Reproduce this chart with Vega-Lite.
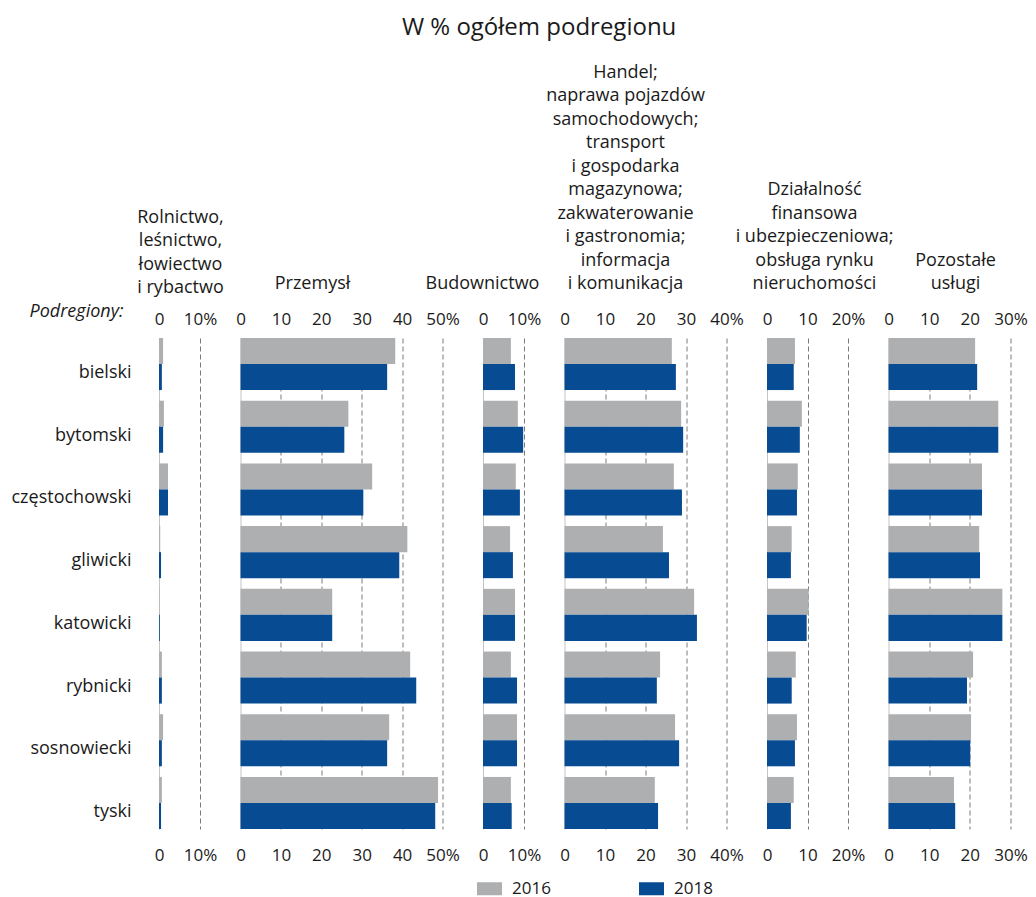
{
  "$schema": "https://vega.github.io/schema/vega-lite/v6.json",
  "padding": {"left": 10, "right": 3, "top": 15, "bottom": 12},
  "title": {"text": "W % ogółem podregionu", "fontSize": 24, "fontWeight": "normal", "anchor": "middle", "baseline": "top", "offset": 24, "dx": 20, "color": "#1a1a1a"},
  "data": {"values": [
    {"region": "bielski", "sector": "R", "year": "2016", "value": 1.0},
    {"region": "bytomski", "sector": "R", "year": "2016", "value": 1.2},
    {"region": "częstochowski", "sector": "R", "year": "2016", "value": 2.2},
    {"region": "gliwicki", "sector": "R", "year": "2016", "value": 0.3},
    {"region": "katowicki", "sector": "R", "year": "2016", "value": 0.1},
    {"region": "rybnicki", "sector": "R", "year": "2016", "value": 0.7},
    {"region": "sosnowiecki", "sector": "R", "year": "2016", "value": 1.0},
    {"region": "tyski", "sector": "R", "year": "2016", "value": 0.7},
    {"region": "bielski", "sector": "R", "year": "2018", "value": 0.7},
    {"region": "bytomski", "sector": "R", "year": "2018", "value": 1.0},
    {"region": "częstochowski", "sector": "R", "year": "2018", "value": 2.2},
    {"region": "gliwicki", "sector": "R", "year": "2018", "value": 0.5},
    {"region": "katowicki", "sector": "R", "year": "2018", "value": 0.2},
    {"region": "rybnicki", "sector": "R", "year": "2018", "value": 0.7},
    {"region": "sosnowiecki", "sector": "R", "year": "2018", "value": 0.7},
    {"region": "tyski", "sector": "R", "year": "2018", "value": 0.5},
    {"region": "bielski", "sector": "P", "year": "2016", "value": 38.3},
    {"region": "bytomski", "sector": "P", "year": "2016", "value": 26.7},
    {"region": "częstochowski", "sector": "P", "year": "2016", "value": 32.6},
    {"region": "gliwicki", "sector": "P", "year": "2016", "value": 41.3},
    {"region": "katowicki", "sector": "P", "year": "2016", "value": 22.7},
    {"region": "rybnicki", "sector": "P", "year": "2016", "value": 42.0},
    {"region": "sosnowiecki", "sector": "P", "year": "2016", "value": 36.8},
    {"region": "tyski", "sector": "P", "year": "2016", "value": 48.9},
    {"region": "bielski", "sector": "P", "year": "2018", "value": 36.3},
    {"region": "bytomski", "sector": "P", "year": "2018", "value": 25.7},
    {"region": "częstochowski", "sector": "P", "year": "2018", "value": 30.4},
    {"region": "gliwicki", "sector": "P", "year": "2018", "value": 39.3},
    {"region": "katowicki", "sector": "P", "year": "2018", "value": 22.7},
    {"region": "rybnicki", "sector": "P", "year": "2018", "value": 43.5},
    {"region": "sosnowiecki", "sector": "P", "year": "2018", "value": 36.3},
    {"region": "tyski", "sector": "P", "year": "2018", "value": 48.2},
    {"region": "bielski", "sector": "B", "year": "2016", "value": 6.8},
    {"region": "bytomski", "sector": "B", "year": "2016", "value": 8.5},
    {"region": "częstochowski", "sector": "B", "year": "2016", "value": 8.0},
    {"region": "gliwicki", "sector": "B", "year": "2016", "value": 6.6},
    {"region": "katowicki", "sector": "B", "year": "2016", "value": 7.8},
    {"region": "rybnicki", "sector": "B", "year": "2016", "value": 6.8},
    {"region": "sosnowiecki", "sector": "B", "year": "2016", "value": 8.3},
    {"region": "tyski", "sector": "B", "year": "2016", "value": 6.8},
    {"region": "bielski", "sector": "B", "year": "2018", "value": 7.8},
    {"region": "bytomski", "sector": "B", "year": "2018", "value": 9.8},
    {"region": "częstochowski", "sector": "B", "year": "2018", "value": 9.0},
    {"region": "gliwicki", "sector": "B", "year": "2018", "value": 7.3},
    {"region": "katowicki", "sector": "B", "year": "2018", "value": 7.8},
    {"region": "rybnicki", "sector": "B", "year": "2018", "value": 8.3},
    {"region": "sosnowiecki", "sector": "B", "year": "2018", "value": 8.3},
    {"region": "tyski", "sector": "B", "year": "2018", "value": 7.0},
    {"region": "bielski", "sector": "H", "year": "2016", "value": 26.5},
    {"region": "bytomski", "sector": "H", "year": "2016", "value": 28.8},
    {"region": "częstochowski", "sector": "H", "year": "2016", "value": 27.0},
    {"region": "gliwicki", "sector": "H", "year": "2016", "value": 24.3},
    {"region": "katowicki", "sector": "H", "year": "2016", "value": 32.0},
    {"region": "rybnicki", "sector": "H", "year": "2016", "value": 23.6},
    {"region": "sosnowiecki", "sector": "H", "year": "2016", "value": 27.3},
    {"region": "tyski", "sector": "H", "year": "2016", "value": 22.3},
    {"region": "bielski", "sector": "H", "year": "2018", "value": 27.5},
    {"region": "bytomski", "sector": "H", "year": "2018", "value": 29.3},
    {"region": "częstochowski", "sector": "H", "year": "2018", "value": 29.0},
    {"region": "gliwicki", "sector": "H", "year": "2018", "value": 25.8},
    {"region": "katowicki", "sector": "H", "year": "2018", "value": 32.7},
    {"region": "rybnicki", "sector": "H", "year": "2018", "value": 22.8},
    {"region": "sosnowiecki", "sector": "H", "year": "2018", "value": 28.3},
    {"region": "tyski", "sector": "H", "year": "2018", "value": 23.1},
    {"region": "bielski", "sector": "F", "year": "2016", "value": 6.9},
    {"region": "bytomski", "sector": "F", "year": "2016", "value": 8.6},
    {"region": "częstochowski", "sector": "F", "year": "2016", "value": 7.6},
    {"region": "gliwicki", "sector": "F", "year": "2016", "value": 6.1},
    {"region": "katowicki", "sector": "F", "year": "2016", "value": 10.3},
    {"region": "rybnicki", "sector": "F", "year": "2016", "value": 7.1},
    {"region": "sosnowiecki", "sector": "F", "year": "2016", "value": 7.4},
    {"region": "tyski", "sector": "F", "year": "2016", "value": 6.6},
    {"region": "bielski", "sector": "F", "year": "2018", "value": 6.6},
    {"region": "bytomski", "sector": "F", "year": "2018", "value": 8.1},
    {"region": "częstochowski", "sector": "F", "year": "2018", "value": 7.4},
    {"region": "gliwicki", "sector": "F", "year": "2018", "value": 5.9},
    {"region": "katowicki", "sector": "F", "year": "2018", "value": 9.8},
    {"region": "rybnicki", "sector": "F", "year": "2018", "value": 6.1},
    {"region": "sosnowiecki", "sector": "F", "year": "2018", "value": 6.9},
    {"region": "tyski", "sector": "F", "year": "2018", "value": 5.9},
    {"region": "bielski", "sector": "U", "year": "2016", "value": 21.3},
    {"region": "bytomski", "sector": "U", "year": "2016", "value": 27.0},
    {"region": "częstochowski", "sector": "U", "year": "2016", "value": 23.0},
    {"region": "gliwicki", "sector": "U", "year": "2016", "value": 22.3},
    {"region": "katowicki", "sector": "U", "year": "2016", "value": 28.0},
    {"region": "rybnicki", "sector": "U", "year": "2016", "value": 20.8},
    {"region": "sosnowiecki", "sector": "U", "year": "2016", "value": 20.3},
    {"region": "tyski", "sector": "U", "year": "2016", "value": 16.1},
    {"region": "bielski", "sector": "U", "year": "2018", "value": 21.8},
    {"region": "bytomski", "sector": "U", "year": "2018", "value": 27.0},
    {"region": "częstochowski", "sector": "U", "year": "2018", "value": 23.0},
    {"region": "gliwicki", "sector": "U", "year": "2018", "value": 22.5},
    {"region": "katowicki", "sector": "U", "year": "2018", "value": 28.0},
    {"region": "rybnicki", "sector": "U", "year": "2018", "value": 19.3},
    {"region": "sosnowiecki", "sector": "U", "year": "2018", "value": 20.1},
    {"region": "tyski", "sector": "U", "year": "2018", "value": 16.4}
  ]},
  "spacing": 40.5,
  "bounds": "flush",
  "hconcat": [
    {
      "width": 41, "height": 491,
      "transform": [{"filter": "datum.sector === 'R'"}],
      "title": {"text": ["Rolnictwo,", "leśnictwo,", "łowiectwo", "i rybactwo"], "dx": 1, "dy": 12},
      "layer": [
        {"mark": {"type": "bar"}, "encoding": {
          "y": {"field": "region", "type": "nominal", "sort": ["bielski","bytomski","częstochowski","gliwicki","katowicki","rybnicki","sosnowiecki","tyski"], "scale": {"paddingInner": 0.17, "paddingOuter": 0},
            "axis": {"title": "Podregiony:", "titleAngle": 0, "titleAlign": "right", "titleBaseline": "alphabetic", "titleX": -36, "titleY": -22, "titleFontStyle": "italic", "titleFontWeight": "normal", "titleFontSize": 18, "titleColor": "#1a1a1a", "labelFontSize": 18, "labelPadding": 28, "labelOffset": 9, "ticks": false, "domain": false, "grid": false, "labelColor": "#1a1a1a"}},
          "yOffset": {"field": "year", "type": "nominal", "scale": {"paddingInner": 0, "paddingOuter": 0}},
          "x": {"field": "value", "type": "quantitative", "scale": {"domain": [0, 10], "nice": false, "zero": true},
            "axis": {"orient": "top", "values": [0, 10], "labelExpr": "datum.value === 10 ? datum.label + '%' : datum.label", "grid": true}},
          "color": {"field": "year", "type": "nominal", "scale": {"domain": ["2016", "2018"], "range": ["#aeafb1", "#074b92"]},
            "legend": {"title": null, "orient": "none", "direction": "horizontal", "legendX": 318, "legendY": 538, "symbolType": "M-1,-0.52H1V0.52H-1Z", "symbolSize": 625, "symbolStrokeWidth": 0, "labelFontSize": 17, "labelOffset": 10, "columnPadding": 88, "labelColor": "#1a1a1a", "padding": 0}}
        }},
        {"mark": {"type": "tick", "opacity": 0}, "encoding": {
          "x": {"field": "value", "type": "quantitative", "scale": {"domain": [0, 10], "nice": false},
            "axis": {"orient": "bottom", "values": [0, 10], "labelExpr": "datum.value === 10 ? datum.label + '%' : datum.label", "grid": false, "labelPadding": 18}}
        }}
      ],
      "resolve": {"axis": {"x": "independent"}}
    },
    {
      "width": 202, "height": 491,
      "transform": [{"filter": "datum.sector === 'P'"}],
      "title": {"text": ["Przemysł"], "dx": -29},
      "layer": [
        {"mark": {"type": "bar"}, "encoding": {
          "y": {"field": "region", "type": "nominal", "sort": ["bielski","bytomski","częstochowski","gliwicki","katowicki","rybnicki","sosnowiecki","tyski"], "scale": {"paddingInner": 0.17, "paddingOuter": 0}, "axis": null},
          "yOffset": {"field": "year", "type": "nominal", "scale": {"paddingInner": 0, "paddingOuter": 0}},
          "x": {"field": "value", "type": "quantitative", "scale": {"domain": [0, 50], "nice": false},
            "axis": {"orient": "top", "values": [0, 10, 20, 30, 40, 50], "labelExpr": "datum.value === 50 ? datum.label + '%' : datum.label", "grid": true}},
          "color": {"field": "year", "type": "nominal"}
        }},
        {"mark": {"type": "tick", "opacity": 0}, "encoding": {
          "x": {"field": "value", "type": "quantitative", "scale": {"domain": [0, 50], "nice": false},
            "axis": {"orient": "bottom", "values": [0, 10, 20, 30, 40, 50], "labelExpr": "datum.value === 50 ? datum.label + '%' : datum.label", "grid": false, "labelPadding": 18}}
        }}
      ],
      "resolve": {"axis": {"x": "independent"}}
    },
    {
      "width": 41, "height": 491,
      "transform": [{"filter": "datum.sector === 'B'"}],
      "title": {"text": ["Budownictwo"], "dx": -21},
      "layer": [
        {"mark": {"type": "bar"}, "encoding": {
          "y": {"field": "region", "type": "nominal", "sort": ["bielski","bytomski","częstochowski","gliwicki","katowicki","rybnicki","sosnowiecki","tyski"], "scale": {"paddingInner": 0.17, "paddingOuter": 0}, "axis": null},
          "yOffset": {"field": "year", "type": "nominal", "scale": {"paddingInner": 0, "paddingOuter": 0}},
          "x": {"field": "value", "type": "quantitative", "scale": {"domain": [0, 10], "nice": false},
            "axis": {"orient": "top", "values": [0, 10], "labelExpr": "datum.value === 10 ? datum.label + '%' : datum.label", "grid": true}},
          "color": {"field": "year", "type": "nominal"}
        }},
        {"mark": {"type": "tick", "opacity": 0}, "encoding": {
          "x": {"field": "value", "type": "quantitative", "scale": {"domain": [0, 10], "nice": false},
            "axis": {"orient": "bottom", "values": [0, 10], "labelExpr": "datum.value === 10 ? datum.label + '%' : datum.label", "grid": false, "labelPadding": 18}}
        }}
      ],
      "resolve": {"axis": {"x": "independent"}}
    },
    {
      "width": 162, "height": 491,
      "transform": [{"filter": "datum.sector === 'H'"}],
      "title": {"text": ["Handel;", "naprawa pojazdów", "samochodowych;", "transport", "i gospodarka", "magazynowa;", "zakwaterowanie", "i gastronomia;", "informacja", "i komunikacja"], "dx": -20},
      "layer": [
        {"mark": {"type": "bar"}, "encoding": {
          "y": {"field": "region", "type": "nominal", "sort": ["bielski","bytomski","częstochowski","gliwicki","katowicki","rybnicki","sosnowiecki","tyski"], "scale": {"paddingInner": 0.17, "paddingOuter": 0}, "axis": null},
          "yOffset": {"field": "year", "type": "nominal", "scale": {"paddingInner": 0, "paddingOuter": 0}},
          "x": {"field": "value", "type": "quantitative", "scale": {"domain": [0, 40], "nice": false},
            "axis": {"orient": "top", "values": [0, 10, 20, 30, 40], "labelExpr": "datum.value === 40 ? datum.label + '%' : datum.label", "grid": true}},
          "color": {"field": "year", "type": "nominal"}
        }},
        {"mark": {"type": "tick", "opacity": 0}, "encoding": {
          "x": {"field": "value", "type": "quantitative", "scale": {"domain": [0, 40], "nice": false},
            "axis": {"orient": "bottom", "values": [0, 10, 20, 30, 40], "labelExpr": "datum.value === 40 ? datum.label + '%' : datum.label", "grid": false, "labelPadding": 18}}
        }}
      ],
      "resolve": {"axis": {"x": "independent"}}
    },
    {
      "width": 81, "height": 491,
      "transform": [{"filter": "datum.sector === 'F'"}],
      "title": {"text": ["Działalność", "finansowa", "i ubezpieczeniowa;", "obsługa rynku", "nieruchomości"], "dx": 7},
      "layer": [
        {"mark": {"type": "bar"}, "encoding": {
          "y": {"field": "region", "type": "nominal", "sort": ["bielski","bytomski","częstochowski","gliwicki","katowicki","rybnicki","sosnowiecki","tyski"], "scale": {"paddingInner": 0.17, "paddingOuter": 0}, "axis": null},
          "yOffset": {"field": "year", "type": "nominal", "scale": {"paddingInner": 0, "paddingOuter": 0}},
          "x": {"field": "value", "type": "quantitative", "scale": {"domain": [0, 20], "nice": false},
            "axis": {"orient": "top", "values": [0, 10, 20], "labelExpr": "datum.value === 20 ? datum.label + '%' : datum.label", "grid": true}},
          "color": {"field": "year", "type": "nominal"}
        }},
        {"mark": {"type": "tick", "opacity": 0}, "encoding": {
          "x": {"field": "value", "type": "quantitative", "scale": {"domain": [0, 20], "nice": false},
            "axis": {"orient": "bottom", "values": [0, 10, 20], "labelExpr": "datum.value === 20 ? datum.label + '%' : datum.label", "grid": false, "labelPadding": 18}}
        }}
      ],
      "resolve": {"axis": {"x": "independent"}}
    },
    {
      "width": 122, "height": 491,
      "transform": [{"filter": "datum.sector === 'U'"}],
      "title": {"text": ["Pozostałe", "usługi"], "dx": 6},
      "layer": [
        {"mark": {"type": "bar"}, "encoding": {
          "y": {"field": "region", "type": "nominal", "sort": ["bielski","bytomski","częstochowski","gliwicki","katowicki","rybnicki","sosnowiecki","tyski"], "scale": {"paddingInner": 0.17, "paddingOuter": 0}, "axis": null},
          "yOffset": {"field": "year", "type": "nominal", "scale": {"paddingInner": 0, "paddingOuter": 0}},
          "x": {"field": "value", "type": "quantitative", "scale": {"domain": [0, 30], "nice": false},
            "axis": {"orient": "top", "values": [0, 10, 20, 30], "labelExpr": "datum.value === 30 ? datum.label + '%' : datum.label", "grid": true}},
          "color": {"field": "year", "type": "nominal"}
        }},
        {"mark": {"type": "tick", "opacity": 0}, "encoding": {
          "x": {"field": "value", "type": "quantitative", "scale": {"domain": [0, 30], "nice": false},
            "axis": {"orient": "bottom", "values": [0, 10, 20, 30], "labelExpr": "datum.value === 30 ? datum.label + '%' : datum.label", "grid": false, "labelPadding": 18}}
        }}
      ],
      "resolve": {"axis": {"x": "independent"}}
    }
  ],
  "config": {
    "font": "Open Sans",
    "background": "#ffffff",
    "view": {"stroke": null},
    "axisX": {
      "title": null, "domain": false, "ticks": false, "labelFontSize": 17, "labelColor": "#1a1a1a", "labelFlush": false, "labelOverlap": false, "labelPadding": 10,
      "gridColor": {"condition": {"test": "datum.value === 0", "value": "#c4c4c4"}, "value": "#7a7a7a"},
      "gridDash": {"condition": {"test": "datum.value === 0", "value": []}, "value": [5, 3]},
      "gridWidth": 1
    },
    "title": {"fontSize": 18, "fontWeight": "normal", "color": "#1a1a1a", "anchor": "middle", "baseline": "bottom", "lineHeight": 23.5, "offset": 17}
  }
}
